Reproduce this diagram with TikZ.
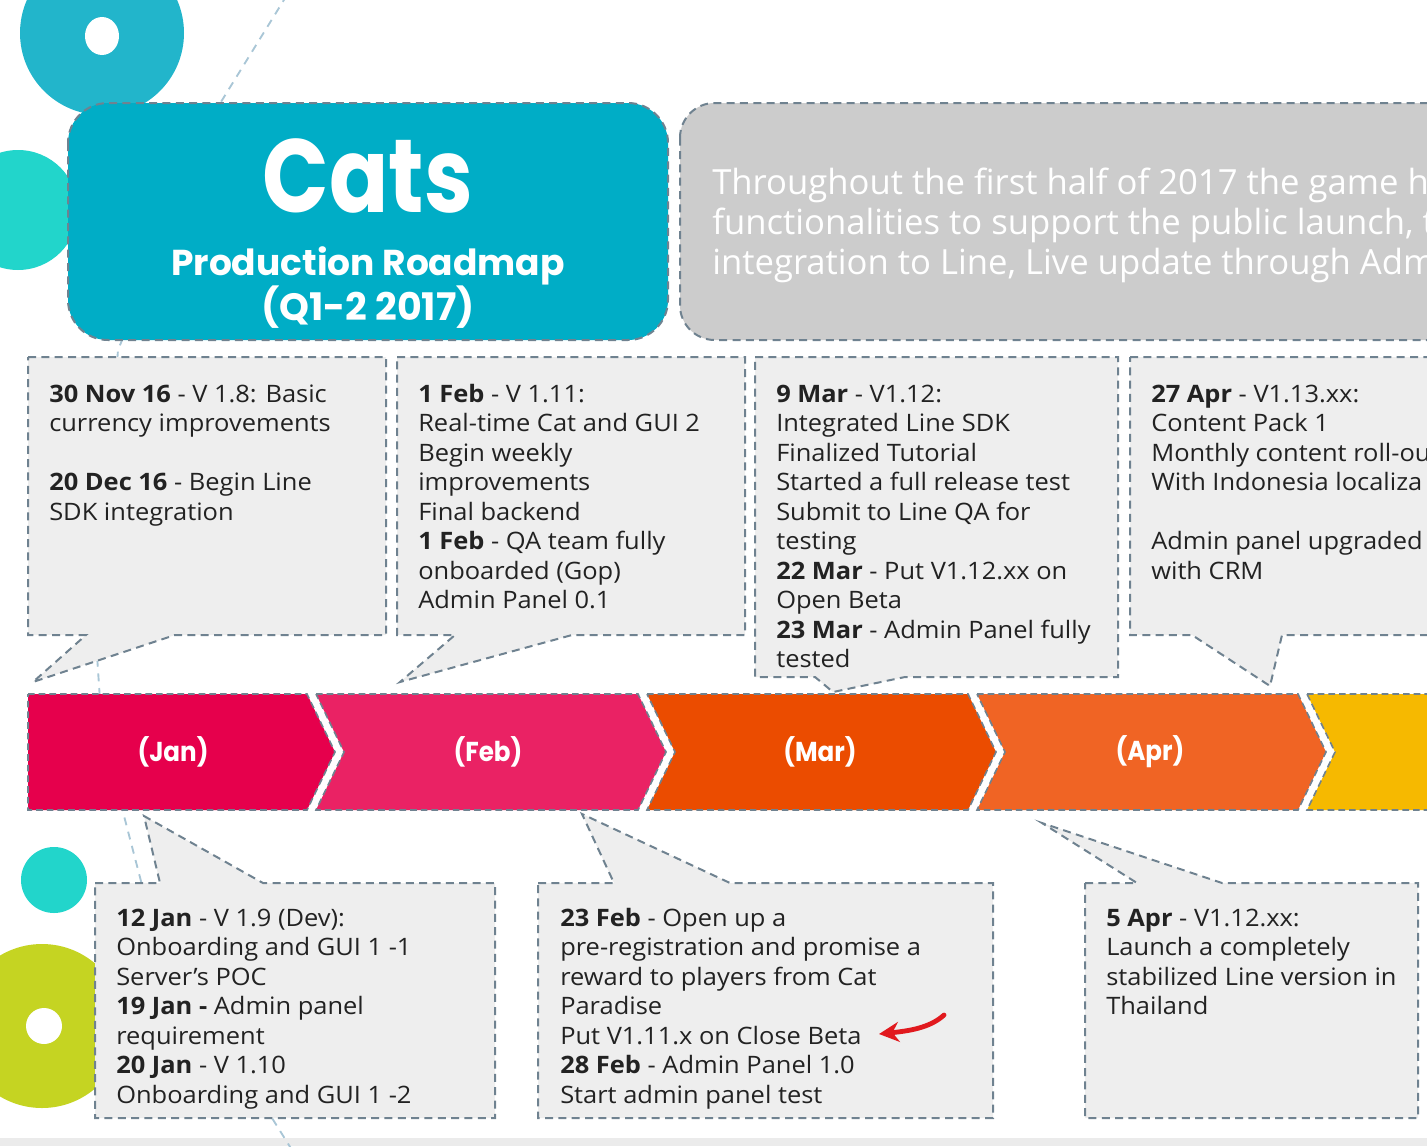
\documentclass[tikz,border=0pt]{standalone}
\usepackage{fontspec}
\setmainfont{Open Sans}[FakeStretch=1.06]
\newfontfamily\sumfont{Open Sans}
\newfontfamily\titlefont{Poppins}
\newfontfamily\catsfont{Poppins}[FakeStretch=0.84]
\newfontfamily\monthfont{Poppins}[FakeStretch=0.9]
\usetikzlibrary{arrows.meta}
\definecolor{titleteal}{RGB}{0,173,198}
\definecolor{circteal}{RGB}{34,181,203}
\definecolor{circturq}{RGB}{34,213,203}
\definecolor{circlime}{RGB}{197,212,34}
\definecolor{greybox}{RGB}{204,204,204}
\definecolor{callfill}{RGB}{238,238,238}
\definecolor{bordc}{RGB}{111,130,144}
\definecolor{decoc}{RGB}{169,198,214}
\definecolor{txtc}{RGB}{34,34,34}
\definecolor{janc}{RGB}{230,0,76}
\definecolor{febc}{RGB}{234,34,100}
\definecolor{marc}{RGB}{235,76,0}
\definecolor{aprc}{RGB}{240,100,36}
\definecolor{mayc}{RGB}{246,185,0}
\definecolor{arrred}{RGB}{225,25,30}
\tikzset{
  dashborder/.style={draw=bordc, line width=1.5pt, dash pattern=on 6pt off 4pt},
  callout/.style={dashborder, fill=callfill},
  seg/.style={draw=bordc, line width=1.2pt, dash pattern=on 5pt off 3pt},
  bodytxt/.style={anchor=north west, inner sep=0pt, align=left, text=txtc,
     font=\fontsize{18pt}{22.125pt}\selectfont},
  sumtxt/.style={anchor=base west, inner sep=0pt, text=white, font=\sumfont\fontsize{26pt}{30pt}\selectfont},
  monthtxt/.style={text=white, inner sep=0pt, font=\monthfont\bfseries\fontsize{20.5pt}{24pt}\selectfont},
}
\begin{document}
\begin{tikzpicture}[x=0.75pt,y=-0.75pt]
\useasboundingbox (0,0) rectangle (1427,1146);
\clip (0,0) rectangle (1427,1146);
% bottom strip
\fill[black!8] (0,1138) rectangle (1427,1146);
% decorative circles
\fill[circteal] (102,33) circle (82);
\fill[white] (102,36) ellipse (17 and 19);
\fill[circturq] (18,210) circle (60);
\fill[circturq] (54,880) circle (33);
\fill[circlime] (42,1026) circle (82);
\fill[white] (44,1026) circle (18);
% decorative dashed line
\draw[decoc, line width=1.4pt, dash pattern=on 6pt off 5pt]
  (287,-5) -- (216,110) -- (118,350) -- (96,640) -- (100,700) -- (123,812) -- (142,885) -- (272,1118) -- (292,1150);
% title box
\draw[dashborder, fill=titleteal, rounded corners=30pt] (68,103) rectangle (668,340);
\node[text=white, inner sep=0pt, anchor=base, font=\catsfont\bfseries\fontsize{78pt}{80pt}\selectfont] (cats) at (368,212) {Cats};
\node[text=white, inner sep=0pt, anchor=base, font=\titlefont\bfseries\fontsize{27pt}{30pt}\selectfont] (prod) at (368,275) {Production Roadmap};
\node[text=white, inner sep=0pt, anchor=base, font=\titlefont\bfseries\fontsize{28.5pt}{30pt}\selectfont] (qtr) at (368,320) {(Q1-2 2017)};
% grey summary box
\draw[dashborder, fill=greybox, rounded corners=26pt] (680,103) rectangle (1470,340);
\node[sumtxt] (sum1) at (712,194) {Throughout the first half of 2017 the game h};
\node[sumtxt] (sum2) at (712,234) {functionalities to support the public launch, t};
\node[sumtxt] (sum3) at (712,274) {integration to Line, Live update through Adm};
% top callouts
\draw[callout] (28,357) -- (386,357) -- (386,635) -- (175,635) -- (33,682) -- (86,635) -- (28,635) -- cycle;
\draw[callout] (397,357) -- (745,357) -- (745,635) -- (572,635) -- (400,682) -- (455,635) -- (397,635) -- cycle;
\draw[callout] (755,357) -- (1118,357) -- (1118,677) -- (905,677) -- (833,692) -- (815,677) -- (755,677) -- cycle;
\draw[callout] (1130,357) -- (1460,357) -- (1460,635) -- (1282,635) -- (1270,686) -- (1192,635) -- (1130,635) -- cycle;
\node[bodytxt] (ta) at (49,381.4) {\strut\textbf{30 Nov 16} - V 1.8: Basic\\currency improvements\\~\\\textbf{20 Dec 16} - Begin Line\\SDK integration};
\node[bodytxt] (tb) at (418,381.4) {\strut\textbf{1 Feb} - V 1.11:\\Real-time Cat and GUI 2\\Begin weekly\\improvements\\Final backend\\\textbf{1 Feb} - QA team fully\\onboarded (Gop)\\Admin Panel 0.1};
\node[bodytxt] (tc) at (776,381.4) {\strut\textbf{9 Mar} - V1.12:\\Integrated Line SDK\\Finalized Tutorial\\Started a full release test\\Submit to Line QA for\\testing\\\textbf{22 Mar} - Put V1.12.xx on\\Open Beta\\\textbf{23 Mar} - Admin Panel fully\\tested};
\node[bodytxt] (td) at (1151,381.4) {\strut\textbf{27 Apr} - V1.13.xx:\\Content Pack 1\\Monthly content roll-ou\\With Indonesia localiza\\~\\Admin panel upgraded\\with CRM};
% timeline
\draw[seg, fill=janc] (28,694) -- (307,694) -- (335,752) -- (307,810) -- (28,810) -- cycle;
\draw[seg, fill=febc] (316,694) -- (638,694) -- (666,752) -- (638,810) -- (316,810) -- (344,752) -- cycle;
\draw[seg, fill=marc] (647,694) -- (968,694) -- (996,752) -- (968,810) -- (647,810) -- (675,752) -- cycle;
\draw[seg, fill=aprc] (977,694) -- (1298,694) -- (1326,752) -- (1298,810) -- (977,810) -- (1005,752) -- cycle;
\draw[seg, fill=mayc] (1307,694) -- (1460,694) -- (1460,810) -- (1307,810) -- (1335,752) -- cycle;
\node[monthtxt] (jan) at (173,752) {(Jan)};
\node[monthtxt] (feb) at (488,752) {(Feb)};
\node[monthtxt] (mar) at (820,752) {(Mar)};
\node[monthtxt] (apr) at (1150,752) {(Apr)};
% bottom callouts
\draw[callout] (95,883) -- (160,883) -- (144,816) -- (263,883) -- (495,883) -- (495,1118) -- (95,1118) -- cycle;
\draw[callout] (538,883) -- (614,883) -- (582,814) -- (730,883) -- (993,883) -- (993,1118) -- (538,1118) -- cycle;
\draw[callout] (1085,883) -- (1137,883) -- (1042,823) -- (1222,883) -- (1418,883) -- (1418,1118) -- (1085,1118) -- cycle;
\node[bodytxt] (te) at (116,905.4) {\strut\textbf{12 Jan} - V 1.9 (Dev):\\Onboarding and GUI 1 -1\\Server’s POC\\\textbf{19 Jan -} Admin panel\\requirement\\\textbf{20 Jan} - V 1.10\\Onboarding and GUI 1 -2};
\node[bodytxt] (tf) at (560,905.4) {\strut\textbf{23 Feb} - Open up a\\pre-registration and promise a\\reward to players from Cat\\Paradise\\Put V1.11.x on Close Beta\\\textbf{28 Feb} - Admin Panel 1.0\\Start admin panel test};
\node[bodytxt] (tg) at (1106,905.4) {\strut\textbf{5 Apr} - V1.12.xx:\\Launch a completely\\stabilized Line version in\\Thailand};
% red hand-drawn arrow
\coordinate (rs) at (944,1015);
\coordinate (re) at (879,1034);
\draw[arrred, line width=3.6pt, line cap=round, -{Stealth[length=15pt,width=15pt]}] (rs) .. controls (930,1028) and (908,1031) .. (re);
\end{tikzpicture}
\end{document}
